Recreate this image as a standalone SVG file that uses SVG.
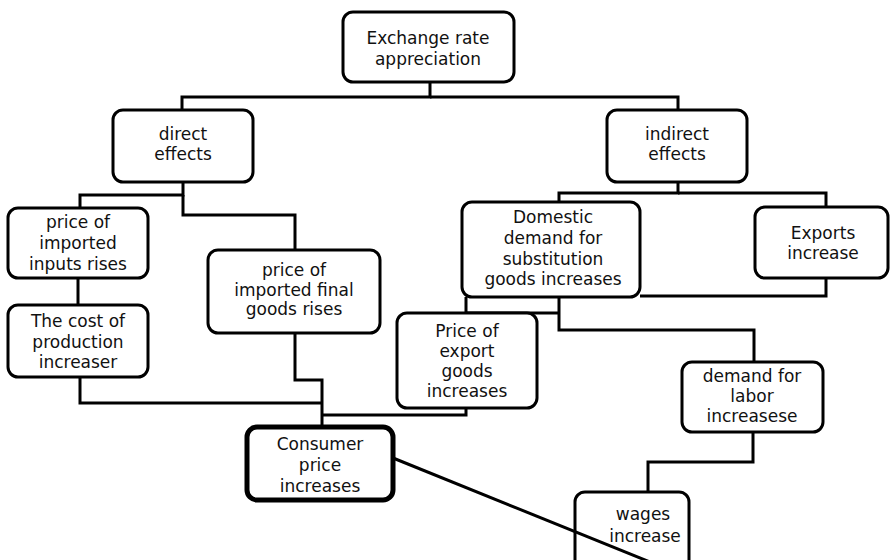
<svg xmlns="http://www.w3.org/2000/svg" width="890" height="560" viewBox="0 0 890 560">
<style>
.box{fill:#fff;stroke:#000;stroke-width:3}
.thick{stroke-width:5}
.c{fill:none;stroke:#000;stroke-width:3}
text{font-family:"DejaVu Sans","Liberation Sans",sans-serif;font-size:17px;fill:#111;text-anchor:middle}
</style>
<rect width="890" height="560" fill="#fff"/>
<g id="connectors">
<path class="c" d="M430,82 V97 H182 V110"/>
<path class="c" d="M430,97 H678 V110"/>
<path class="c" d="M183,182 V195 H80 V208"/>
<path class="c" d="M183,195 V215 H295 V250"/>
<path class="c" d="M78,278 V305"/>
<path class="c" d="M80,377 V403 H322"/>
<path class="c" d="M295,333 V380 H322 V427"/>
<path class="c" d="M466,408 V415 H322"/>
<path class="c" d="M678,182 V193 H559 V202"/>
<path class="c" d="M678,193 H826 V207"/>
<path class="c" d="M466,297 V313 H559"/>
<path class="c" d="M559,297 V330 H754 V362"/>
<path class="c" d="M826,278 V296 H640"/>
<path class="c" d="M753,432 V462 H648 V492"/>
</g>
<g id="n_exchange"><rect class="box" x="343" y="12" width="171" height="70" rx="10"/><text x="428" y="44">Exchange rate</text><text x="428" y="65">appreciation</text></g>
<g id="n_direct"><rect class="box" x="113" y="110" width="140" height="72" rx="10"/><text x="183" y="140">direct</text><text x="183" y="160">effects</text></g>
<g id="n_indirect"><rect class="box" x="607" y="110" width="140" height="72" rx="10"/><text x="677" y="140">indirect</text><text x="677" y="160">effects</text></g>
<g id="n_inputs"><rect class="box" x="8" y="208" width="140" height="70" rx="10"/><text x="78" y="228">price of</text><text x="78" y="249">imported</text><text x="78" y="270">inputs rises</text></g>
<g id="n_cost"><rect class="box" x="8" y="305" width="140" height="72" rx="10"/><text x="78" y="327">The cost of</text><text x="78" y="348">production</text><text x="78" y="368">increaser</text></g>
<g id="n_final"><rect class="box" x="208" y="250" width="172" height="83" rx="10"/><text x="294" y="276">price of</text><text x="294" y="296">imported final</text><text x="294" y="315">goods rises</text></g>
<g id="n_domestic"><rect class="box" x="462" y="202" width="178" height="95" rx="10"/><text x="553" y="223">Domestic</text><text x="553" y="244">demand for</text><text x="553" y="265">substitution</text><text x="553" y="285">goods increases</text></g>
<g id="n_exports"><rect class="box" x="755" y="207" width="133" height="71" rx="10"/><text x="823" y="239">Exports</text><text x="823" y="259">increase</text></g>
<g id="n_priceexport"><rect class="box" x="397" y="313" width="140" height="95" rx="10"/><text x="467" y="337">Price of</text><text x="467" y="357">export</text><text x="467" y="377">goods</text><text x="467" y="397">increases</text></g>
<g id="n_labor"><rect class="box" x="682" y="362" width="141" height="70" rx="10"/><text x="752" y="382">demand for</text><text x="752" y="402">labor</text><text x="752" y="422">increasese</text></g>
<g id="n_consumer"><rect class="box thick" x="247" y="427" width="146" height="73" rx="10"/><text x="320" y="450">Consumer</text><text x="320" y="471">price</text><text x="320" y="492">increases</text></g>
<g id="n_wages"><rect class="box" x="575" y="492" width="114" height="80" rx="10"/><text x="643" y="520">wages</text><text x="645" y="542">increase</text></g>
<g id="diag"><path class="c" d="M393,458 L650,562" stroke-width="4"/></g>
</svg>
